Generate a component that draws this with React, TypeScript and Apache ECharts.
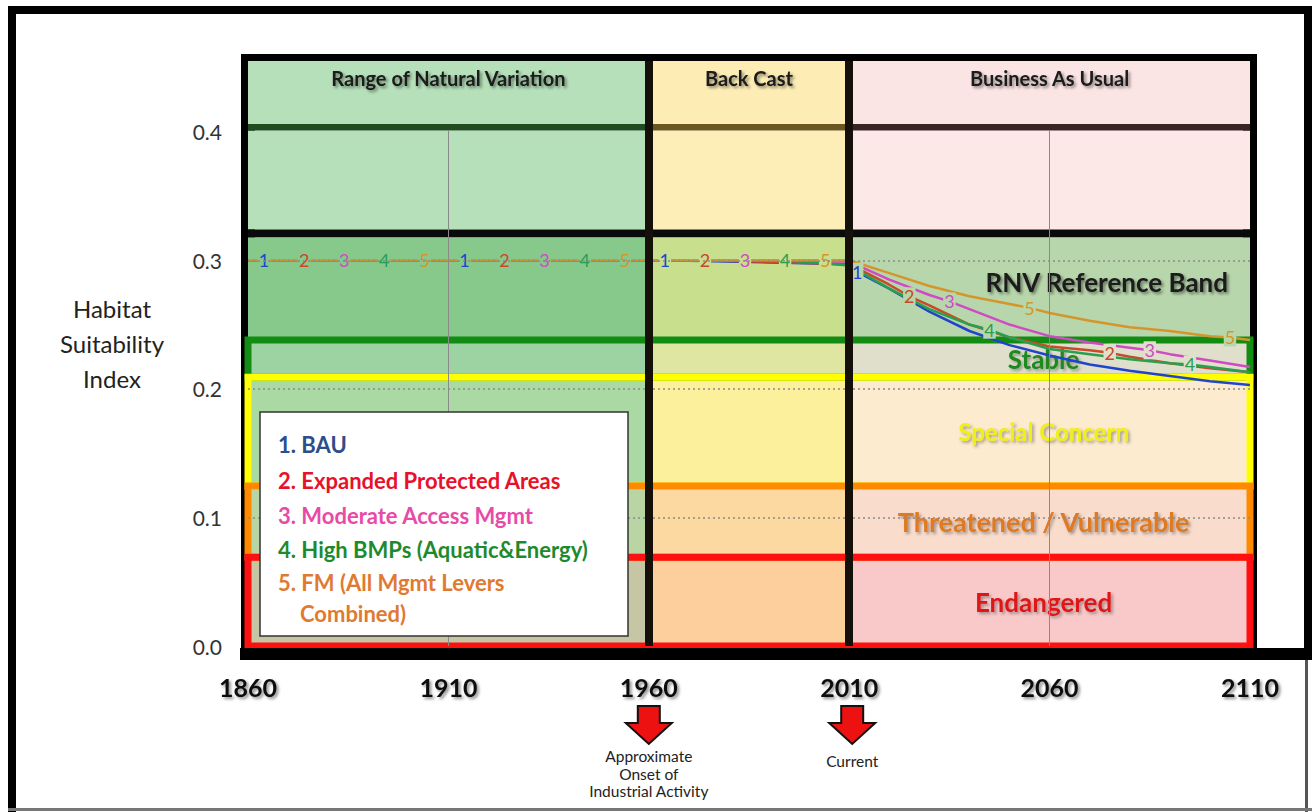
import React, { useEffect, useRef } from 'react';
import * as echarts from 'echarts';

const FONT = 'Lato, "Open Sans", sans-serif';

// axes
const xMin = 1860;
const xMax = 2110;
const xStep = 50;
const yMin = 0;
const yMax = 0.455;
const yStep = 0.1;

// periods (columns)
const periodNames = ['Range of Natural Variation', 'Back Cast', 'Business As Usual'];
const periodStart = [1860, 1960, 2010];
const periodEnd = [1960, 2010, 2110];

// horizontal zones (rows)
const zoneLow = [0.405, 0.324, 0.238, 0.209, 0.1245, 0.069, 0];
const zoneHigh = [0.455, 0.401, 0.318, 0.238, 0.209, 0.1245, 0.069];
const zoneFill = [
  ['#b5e0b9', '#fdedb5', '#fbe5e4'],
  ['#b5e0b9', '#fdeeb7', '#fce8e6'],
  ['#86c98b', '#c8df8d', '#b8d6ac'],
  ['#9dd3a2', '#dfe6a2', '#dfdfcb'],
  ['#abd9a3', '#fdf09c', '#fdebd0'],
  ['#bad5a4', '#fdd9a2', '#f9dccc'],
  ['#c6c6a4', '#fdcf9c', '#f9c9c9'],
];
const headerRule = ['#1f4d1f', '#6b5621', '#3c2323'];

// status bands
const statusNames = ['Stable', 'Special Concern', 'Threatened / Vulnerable', 'Endangered'];
const statusLow = [0.209, 0.1245, 0.069, 0];
const statusHigh = [0.238, 0.209, 0.1245, 0.069];
const statusEdge = ['#128c12', '#ffff00', '#ff8a00', '#ff1010'];
const statusText = ['#1e8a1e', '#f0f018', '#e07a24', '#e01818'];
const statusSize = [26, 24, 27, 26];

// scenarios
const scenarioNames = [
  '1. BAU',
  '2. Expanded Protected Areas',
  '3. Moderate Access Mgmt',
  '4. High BMPs (Aquatic&Energy)',
  '5. FM (All Mgmt Levers Combined)',
];
const legendLines = [
  '1. BAU',
  '2. Expanded Protected Areas',
  '3. Moderate Access Mgmt',
  '4. High BMPs (Aquatic&Energy)',
  '5. FM (All Mgmt Levers',
  'Combined)',
];
const legendColors = ['#2d4e8a', '#e8102a', '#e84aa8', '#1e8a2e', '#e07a30', '#e07a30'];
const lineColors = ['#2244cc', '#c84a28', '#d04ac4', '#28a050', '#d4962a'];

const bau: [number, number][] = [
  [1860, 0.3], [1864, 0.3], [1914, 0.3], [1964, 0.3], [2010, 0.297], [2012, 0.291],
  [2020, 0.278], [2030, 0.26], [2040, 0.245], [2050, 0.234], [2060, 0.226],
  [2070, 0.219], [2080, 0.214], [2090, 0.21], [2100, 0.206], [2110, 0.203],
];
const expanded: [number, number][] = [
  [1860, 0.3], [1874, 0.3], [1924, 0.3], [1974, 0.3], [2010, 0.297], [2020, 0.281],
  [2025, 0.272], [2030, 0.265], [2040, 0.25], [2050, 0.24], [2060, 0.233],
  [2070, 0.23], [2075, 0.228], [2080, 0.225], [2090, 0.22], [2100, 0.216], [2110, 0.213],
];
const moderate: [number, number][] = [
  [1860, 0.3], [1884, 0.3], [1934, 0.3], [1984, 0.3], [2010, 0.299], [2020, 0.285],
  [2030, 0.273], [2035, 0.268], [2040, 0.262], [2050, 0.25], [2060, 0.241],
  [2070, 0.236], [2080, 0.232], [2085, 0.23], [2090, 0.227], [2100, 0.222], [2110, 0.217],
];
const highBmp: [number, number][] = [
  [1860, 0.3], [1894, 0.3], [1944, 0.3], [1994, 0.3], [2010, 0.296], [2020, 0.278],
  [2030, 0.262], [2040, 0.25], [2045, 0.246], [2050, 0.24], [2060, 0.231],
  [2070, 0.227], [2080, 0.223], [2090, 0.22], [2095, 0.219], [2100, 0.217], [2110, 0.213],
];
const fm: [number, number][] = [
  [1860, 0.3], [1904, 0.3], [1954, 0.3], [2004, 0.3], [2010, 0.3], [2020, 0.29],
  [2030, 0.28], [2040, 0.272], [2050, 0.266], [2055, 0.263], [2060, 0.259],
  [2070, 0.253], [2080, 0.248], [2090, 0.245], [2100, 0.241], [2105, 0.24], [2110, 0.238],
];
const scenarioData = [bau, expanded, moderate, highBmp, fm];
const labelYears = [
  [1864, 1914, 1964, 2012],
  [1874, 1924, 1974, 2025, 2075],
  [1884, 1934, 1984, 2035, 2085],
  [1894, 1944, 1994, 2045, 2095],
  [1904, 1954, 2004, 2055, 2105],
];

const shadow = {
  textShadowColor: 'rgba(0,0,0,0.45)',
  textShadowBlur: 3,
  textShadowOffsetX: 2,
  textShadowOffsetY: 2,
};

function labelBg(x: number, y: number) {
  if (x < 1960) return zoneFill[2][0];
  if (x < 2010) return zoneFill[2][1];
  return y >= 0.238 ? zoneFill[2][2] : zoneFill[3][2];
}

export default function App() {
  const ref = useRef<HTMLDivElement>(null);

  useEffect(() => {
    if (!ref.current) return;
    const chart = echarts.init(ref.current, undefined, { renderer: 'svg' });

    const fillAreas: any[] = [];
    zoneLow.forEach((lo, r) => {
      periodStart.forEach((ps, c) => {
        const first: any = { xAxis: ps, yAxis: lo, itemStyle: { color: zoneFill[r][c] } };
        if (r === 0) {
          first.name = periodNames[c];
          first.label = {
            show: true,
            position: 'insideTop',
            distance: 7,
            fontSize: 20,
            fontWeight: 'bold',
            fontFamily: FONT,
            color: '#1a1a1a',
            ...shadow,
          };
        }
        fillAreas.push([first, { xAxis: periodEnd[c], yAxis: zoneHigh[r] }]);
      });
    });
    periodStart.forEach((ps, c) => {
      fillAreas.push([
        { xAxis: ps, yAxis: 0.401, itemStyle: { color: headerRule[c] } },
        { xAxis: periodEnd[c], yAxis: 0.406 },
      ]);
    });
    fillAreas.push([
      { xAxis: xMin, yAxis: 0.318, itemStyle: { color: '#0a0a0a' } },
      { xAxis: xMax, yAxis: 0.324 },
    ]);

    const gridLines: any[] = [];
    [0.1, 0.2, 0.3].forEach((v) => {
      gridLines.push([
        { coord: [xMin, v], lineStyle: { color: '#8a8a8a', width: 1.5, type: [2, 3] } },
        { coord: [xMax, v] },
      ]);
    });
    [1910, 2060].forEach((v) => {
      gridLines.push([
        { coord: [v, 0], lineStyle: { color: '#8a8a8a', width: 1, type: 'solid' } },
        { coord: [v, 0.401] },
      ]);
    });
    const dividers: any[] = [1960, 2010].map((v) => [
      { coord: [v, 0], lineStyle: { color: '#15100a', width: 8, type: 'solid' } },
      { coord: [v, yMax] },
    ]);

    const boxes: any[] = statusLow.map((lo, i) => [
      {
        xAxis: xMin,
        yAxis: lo,
        itemStyle: { color: 'rgba(0,0,0,0)', borderColor: statusEdge[i], borderWidth: 7 },
      },
      { xAxis: xMax, yAxis: statusHigh[i] },
    ]);

    const bandLabels: any[] = statusLow.map((lo, i) => [
      {
        name: statusNames[i],
        xAxis: 2010,
        yAxis: lo,
        itemStyle: { color: 'rgba(0,0,0,0)' },
        label: {
          show: true,
          position: 'inside',
          offset: [-6, 0],
          fontSize: statusSize[i],
          fontWeight: 'bold',
          fontFamily: FONT,
          color: statusText[i],
          textShadowColor: 'rgba(60,60,60,0.45)',
          textShadowBlur: 3,
          textShadowOffsetX: 2,
          textShadowOffsetY: 2,
        },
      },
      { xAxis: 2110, yAxis: statusHigh[i] },
    ]);
    bandLabels.push([
      {
        name: 'RNV Reference Band',
        xAxis: 2010,
        yAxis: 0.238,
        itemStyle: { color: 'rgba(0,0,0,0)' },
        label: {
          show: true,
          position: 'insideRight',
          distance: 22,
          offset: [0, -7],
          fontSize: 26,
          fontWeight: 'bold',
          fontFamily: FONT,
          color: '#1a1a1a',
          ...shadow,
        },
      },
      { xAxis: 2110, yAxis: 0.318 },
    ]);

    const lineSeries = scenarioData.map((d, i) => ({
      type: 'line',
      name: scenarioNames[i],
      z: 4,
      showSymbol: true,
      symbol: 'circle',
      symbolSize: 0,
      animation: false,
      emphasis: { disabled: true },
      lineStyle: { color: lineColors[i], width: 2.5 },
      itemStyle: { color: lineColors[i] },
      data: d.map(([x, y]) => {
        const lab = labelYears[i].includes(x);
        return {
          value: [x, y],
          label: lab
            ? {
                show: true,
                position: 'inside',
                formatter: String(i + 1),
                fontSize: 18,
                fontFamily: FONT,
                color: lineColors[i],
                backgroundColor: labelBg(x, y),
                padding: [0, 1],
              }
            : { show: false },
        };
      }),
    }));

    const option: any = {
      animation: false,
      grid: {
        left: 248,
        right: 62,
        top: 61,
        bottom: 166,
        show: true,
        borderColor: '#000',
        borderWidth: 14,
        backgroundColor: 'rgba(0,0,0,0)',
      },
      xAxis: {
        type: 'value',
        min: xMin,
        max: xMax,
        interval: xStep,
        axisLine: { show: false },
        axisTick: { show: false },
        splitLine: { show: false },
        axisLabel: {
          margin: 28,
          fontSize: 25,
          fontWeight: 'bold',
          fontFamily: FONT,
          color: '#111',
          formatter: (v: number) => String(v),
          ...shadow,
        },
      },
      yAxis: {
        type: 'value',
        min: yMin,
        max: yMax,
        interval: yStep,
        axisLine: { show: false },
        axisTick: { show: false },
        splitLine: { show: false },
        axisLabel: {
          margin: 26,
          fontSize: 21,
          fontFamily: FONT,
          color: '#333',
          showMaxLabel: false,
          formatter: (v: number) => v.toFixed(1),
        },
      },
      series: [
        {
          type: 'line',
          z: 2,
          data: [],
          silent: true,
          markArea: { silent: true, data: fillAreas },
        },
        {
          type: 'line',
          z: 3,
          data: [],
          silent: true,
          markLine: {
            silent: true,
            symbol: ['none', 'none'],
            label: { show: false },
            data: [...gridLines, ...dividers],
          },
        },
        ...lineSeries,
        {
          type: 'line',
          z: 6,
          data: [],
          silent: true,
          markArea: { silent: true, data: boxes },
        },
        {
          type: 'line',
          z: 7,
          data: [],
          silent: true,
          markArea: { silent: true, data: bandLabels },
        },
      ],
    };
    chart.setOption(option);

    const px1960 = chart.convertToPixel({ xAxisIndex: 0 }, 1960) as number;
    const px2010 = chart.convertToPixel({ xAxisIndex: 0 }, 2010) as number;
    const arrow = (cx: number) => ({
      type: 'polygon',
      z: 100,
      shape: {
        points: [
          [cx - 11, 706], [cx + 11, 706], [cx + 11, 723], [cx + 23, 723],
          [cx, 744], [cx - 23, 723], [cx - 11, 723],
        ],
      },
      style: { fill: '#ee1111', stroke: '#111', lineWidth: 2 },
    });
    const smallText = (x: number, y: number, t: string) => ({
      type: 'text',
      z: 100,
      x,
      y,
      style: {
        text: t,
        fontSize: 15.5,
        fontFamily: FONT,
        fill: '#222',
        align: 'center',
        verticalAlign: 'middle',
      },
    });

    const graphic: any[] = [
      { type: 'rect', z: 100, shape: { x: 8, y: 6, width: 1304, height: 8 }, style: { fill: '#000' } },
      { type: 'rect', z: 100, shape: { x: 8, y: 6, width: 8, height: 806 }, style: { fill: '#000' } },
      { type: 'rect', z: 100, shape: { x: 1304, y: 6, width: 8, height: 654 }, style: { fill: '#000' } },
      { type: 'rect', z: 100, shape: { x: 1305, y: 660, width: 3, height: 152 }, style: { fill: '#555' } },
      { type: 'rect', z: 100, shape: { x: 8, y: 808, width: 1304, height: 3 }, style: { fill: '#777' } },
      { type: 'rect', z: 1, shape: { x: 240, y: 648, width: 1072, height: 12 }, style: { fill: '#000' } },
      arrow(px1960),
      arrow(px2010 + 3),
      smallText(px1960, 756, 'Approximate'),
      smallText(px1960, 773.5, 'Onset of'),
      smallText(px1960, 791, 'Industrial Activity'),
      smallText(px2010 + 3, 761, 'Current'),
      {
        type: 'text',
        z: 100,
        x: 112,
        y: 343,
        style: {
          text: 'Habitat\nSuitability\nIndex',
          fontSize: 24,
          lineHeight: 35,
          fontFamily: FONT,
          fill: '#222',
          align: 'center',
          verticalAlign: 'middle',
        },
      },
      {
        type: 'rect',
        z: 100,
        shape: { x: 260, y: 412, width: 368, height: 224 },
        style: { fill: '#fff', stroke: '#333', lineWidth: 1.5 },
      },
      ...legendLines.map((t, i) => ({
        type: 'text',
        z: 101,
        x: i === 5 ? 300 : 278,
        y: [444, 480, 515, 549, 582, 613][i],
        style: {
          text: t,
          fontSize: 22,
          fontWeight: 'bold',
          fontFamily: FONT,
          fill: legendColors[i],
          align: 'left',
          verticalAlign: 'middle',
        },
      })),
    ];
    chart.setOption({ graphic });

    return () => chart.dispose();
  }, []);

  return (
    <div
      ref={ref}
      style={{ position: 'fixed', left: 0, top: 0, width: 1312, height: 812, background: '#fff' }}
    />
  );
}
